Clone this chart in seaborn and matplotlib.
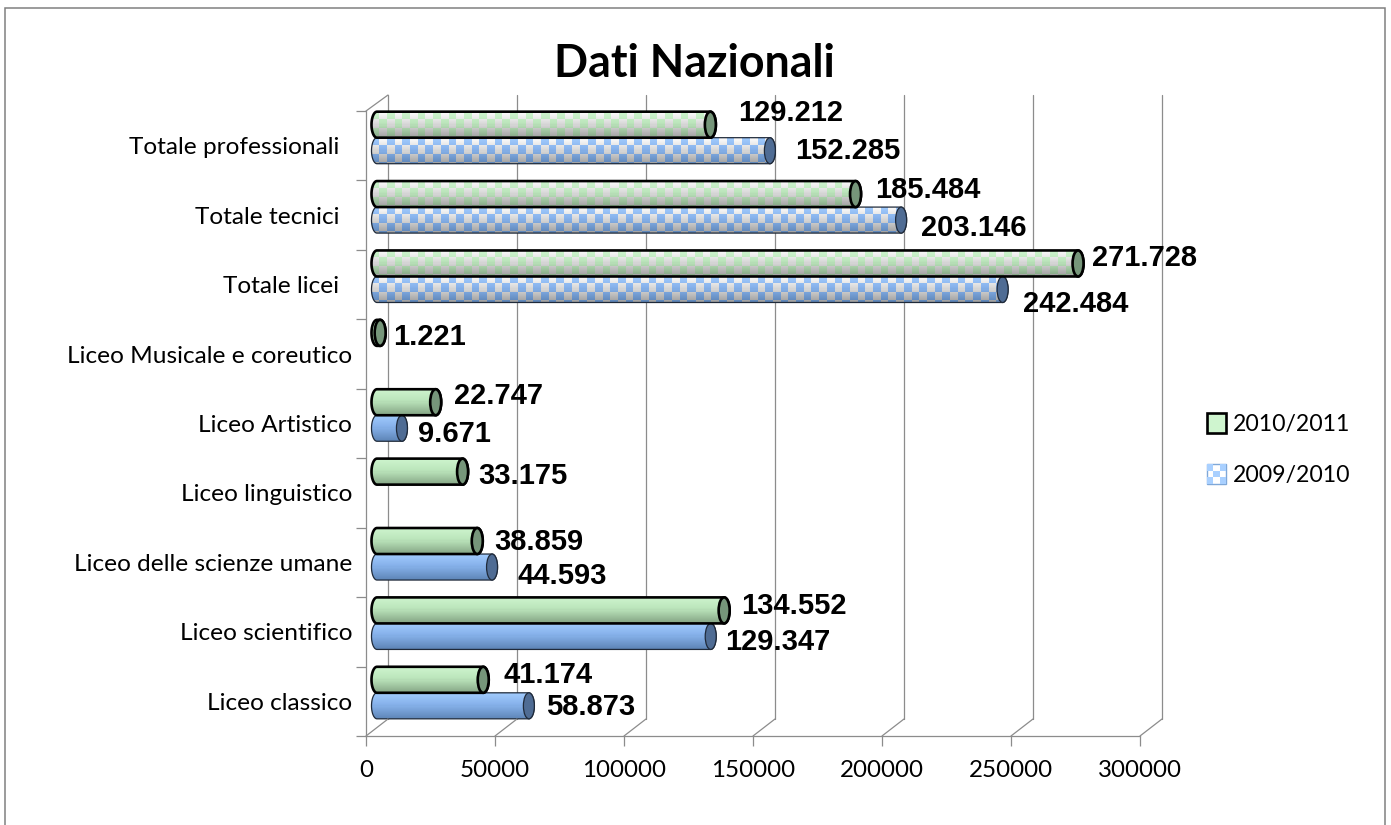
import matplotlib
matplotlib.use('Agg')
import matplotlib.pyplot as plt
import numpy as np
import pandas as pd
import seaborn as sns
from matplotlib.legend_handler import HandlerBase
from matplotlib.patches import ConnectionPatch, Ellipse, PathPatch, Patch, Rectangle
from matplotlib.path import Path

categories = ['Totale professionali  ', 'Totale tecnici  ', 'Totale licei  ', 'Liceo Musicale e coreutico',
              'Liceo Artistico', 'Liceo linguistico', 'Liceo delle scienze umane', 'Liceo scientifico',
              'Liceo classico']
values_2010 = [129212, 185484, 271728, 1221, 22747, 33175, 38859, 134552, 41174]
values_2009 = [152285, 203146, 242484, np.nan, 9671, np.nan, 44593, 129347, 58873]
years = ['2010/2011', '2009/2010']
x_ticks = [0, 50000, 100000, 150000, 200000, 250000, 300000]
checkered = categories[:3]

# manual placement of the data labels, in pixels from the bar end (dx, dy up)
offsets_2010 = [(28, 12), (20, 4), (14, 5), (13, -4), (18, 6), (16, -4), (17, -1), (17, 4), (20, 5)]
offsets_2009 = [(25, 0), (20, -8), (20, -15), None, (16, -6), None, (25, -9), (14, -6), (17, -1)]

W, H = 1391, 825
GREY = '#8c8c8c'
DEPTH_CAP = 5.5  # half width of bar end ellipse, px
PX_PER_UNIT = 774 / 300000

STYLES = {
    '2010/2011': dict(top='#cff5cf', mid='#bce6bc', bottom='#86a686', cap='#76967a', edge='black', lw=1.9),
    '2009/2010': dict(top='#a3cdff', mid='#88b3ec', bottom='#5f86b8', cap='#4f6c94', edge='#1f2a3a', lw=0.9),
}


def px_axes(fig, left, top, right, bottom, **kw):
    return fig.add_axes([left / W, 1 - bottom / H, (right - left) / W, (bottom - top) / H], **kw)


def hex_rgb(c):
    return np.array(matplotlib.colors.to_rgb(c))


def ramp(t, top, mid, bottom):
    top, mid, bottom = hex_rgb(top), hex_rgb(mid), hex_rgb(bottom)
    return np.where(t < 0.45, top + (mid - top) * t / 0.45, mid + (bottom - mid) * (t - 0.45) / 0.55)


def bar_image(style, w_px, h_px, checks):
    w_px, h_px = max(int(w_px), 2), max(int(h_px), 2)
    t = np.linspace(0, 1, h_px)[:, None]
    img = np.repeat(ramp(t, style['top'], style['mid'], style['bottom'])[:, None, :], w_px, axis=1)
    if checks:
        cell = 7.7
        yy, xx = np.mgrid[0:h_px, 0:w_px]
        mask = ((xx // cell + yy // cell) % 2).astype(bool)
        pale = np.repeat(ramp(t, '#ffffff', '#dcdcdc', '#a0a0a0')[:, None, :], w_px, axis=1)
        img[mask] = pale[mask]
    return img


def bar_path(x0, x1, y0, y1, rx):
    yc, ry = (y0 + y1) / 2, (y1 - y0) / 2
    th = np.linspace(-np.pi / 2, np.pi / 2, 40)
    right = np.column_stack([x1 + rx * np.cos(th), yc + ry * np.sin(th)])
    left = np.column_stack([x0 - rx * np.cos(th[::-1]), yc + ry * np.sin(th[::-1])])
    pts = np.vstack([right, left, right[:1]])
    return Path(pts, closed=True)


class CheckHandler(HandlerBase):
    def create_artists(self, legend, orig, xd, yd, width, height, fontsize, trans):
        side = height * 1.0
        x, y = xd * -1 + (width - side) / 2, yd * -1
        arts = [Rectangle((x, y), side, side, fc='#ffffff', ec='#7fa8d8', lw=1, transform=trans)]
        third = side / 3
        for i, j in [(0, 0), (2, 0), (0, 2), (2, 2), (1, 1)]:
            arts.append(Rectangle((x + i * third, y + j * third), third, third, fc='#a9d0ff', lw=0, transform=trans))
        return arts


class GreenHandler(HandlerBase):
    def create_artists(self, legend, orig, xd, yd, width, height, fontsize, trans):
        side = height * 1.0
        x, y = xd * -1 + (width - side) / 2, yd * -1
        return [Rectangle((x, y), side, side, fc='#cff5cf', ec='black', lw=1.9, transform=trans)]


df = pd.concat([
    pd.DataFrame({'corso': categories, 'iscritti': values_2010, 'anno': years[0]}),
    pd.DataFrame({'corso': categories, 'iscritti': values_2009, 'anno': years[1]}),
], ignore_index=True)

sns.set_theme(style='white')
plt.rcParams['font.family'] = ['Lato', 'DejaVu Sans']

fig = plt.figure(figsize=(W / 100, H / 100), dpi=100, facecolor='white')
fig.add_artist(Rectangle((5 / W, -0.05), 1380 / W, 1.05 - 8 / H, transform=fig.transFigure,
                         fill=False, ec='#808080', lw=1.1))

# front plane: axis lines, ticks, labels
ax_front = px_axes(fig, 366, 111, 1140, 736, facecolor='none')
# back plane: vertical gridlines
ax_wall = px_axes(fig, 388, 95, 1162, 719, facecolor='none')
# middle plane: the bars
ax = px_axes(fig, 377, 103, 1151, 727.5, facecolor='none')

for a in (ax_front, ax_wall):
    a.set_xlim(0, 300000)
    a.set_ylim(8.5, -0.5)

ax_front.set_xticks(x_ticks)
ax_front.set_xticklabels([str(t) for t in x_ticks], fontsize=17.4, color='black')
ax_front.set_yticks(range(len(categories)))
ax_front.set_yticklabels(categories, fontsize=17.6, color='black')
ax_front.set_yticks(np.arange(-0.5, len(categories)), minor=True)
ax_front.tick_params(axis='x', which='major', length=7.2, width=0.9, color=GREY, pad=10, bottom=True)
ax_front.tick_params(axis='y', which='major', length=0, pad=10, left=True)
ax_front.tick_params(axis='y', which='minor', length=7.2, width=0.9, color=GREY, left=True)
sns.despine(ax=ax_front, top=True, right=True)
for side in ('left', 'bottom'):
    ax_front.spines[side].set_color(GREY)
    ax_front.spines[side].set_linewidth(0.9)

ax_wall.set_xticks(x_ticks)
ax_wall.set_xticklabels([])
ax_wall.set_yticks([])
ax_wall.tick_params(length=0)
ax_wall.xaxis.grid(True, color=GREY, lw=0.9)
for line in ax_wall.get_xgridlines():
    line.set_clip_on(False)
for s in ax_wall.spines.values():
    s.set_visible(False)

for t in x_ticks:
    fig.add_artist(ConnectionPatch((t, 8.5), (t, 8.5), 'data', 'data', axesA=ax_front, axesB=ax_wall,
                                   color=GREY, lw=0.9))
fig.add_artist(ConnectionPatch((0, -0.5), (0, -0.5), 'data', 'data', axesA=ax_front, axesB=ax_wall,
                               color=GREY, lw=0.9))

sns.barplot(data=df, y='corso', x='iscritti', hue='anno', order=categories, hue_order=years,
            width=0.75, gap=0, dodge=True, legend=False, orient='h', errorbar=None, ax=ax)
ax.set_xlim(0, 300000)
ax.set_ylim(8.5, -0.5)
ax.axis('off')

# values per hue, in the category order, to dress up every bar
all_vals = {years[0]: values_2010, years[1]: values_2009}
all_off = {years[0]: offsets_2010, years[1]: offsets_2009}
rx = DEPTH_CAP / PX_PER_UNIT
y_per_px = 9 / 624.5

for year, container in zip(years, ax.containers):
    style = STYLES[year]
    bars = iter(container.patches)
    order = 3 if year == years[1] else 5  # green bar overlaps blue
    for cat, val, off in zip(categories, all_vals[year], all_off[year]):
        if np.isnan(val):
            continue
        bar = next(bars)
        bar.set_visible(False)
        x1 = bar.get_x() + bar.get_width()
        y0, y1 = sorted((bar.get_y(), bar.get_y() + bar.get_height()))
        outline = bar_path(0, x1, y0, y1, rx)
        w_px = (x1 + 2 * rx) * PX_PER_UNIT
        h_px = (y1 - y0) / y_per_px
        im = ax.imshow(bar_image(style, w_px, h_px, cat in checkered), extent=(-rx, x1 + rx, y1, y0),
                       aspect='auto', origin='upper', zorder=order, interpolation='nearest')
        im.set_clip_path(PathPatch(outline, transform=ax.transData))
        im.set_clip_box(fig.bbox)
        ax.add_patch(PathPatch(outline, fc='none', ec=style['edge'], lw=style['lw'], zorder=order + 0.1,
                               clip_on=False))
        ax.add_patch(Ellipse((x1, (y0 + y1) / 2), 2 * rx, y1 - y0, fc=style['cap'], ec=style['edge'],
                             lw=style['lw'], zorder=order + 0.2, clip_on=False))
        ax.annotate(f'{int(val):,}'.replace(',', '.'), xy=(x1 + 0, (y0 + y1) / 2), xytext=off,
                    textcoords='offset pixels', ha='left', va='center', fontsize=21, fontweight='bold',
                    family='Liberation Sans', color='black', zorder=10, annotation_clip=False)
ax.set_xlim(0, 300000)
ax.set_ylim(8.5, -0.5)

fig.text(694 / W, 1 - 64 / H, 'Dati Nazionali', ha='center', va='center', fontsize=32.2, fontweight='bold',
         family='Lato', color='black')

green = Patch(label=years[0])
blue = Patch(label=years[1])
fig.legend(handles=[green, blue], loc='center left', bbox_to_anchor=(1205 / W, 1 - 449.5 / H), frameon=False,
           fontsize=16.6, labelspacing=1.25, handlelength=1.0, handleheight=0.95, handletextpad=0.2,
           borderpad=0, borderaxespad=0, labelcolor='black', handler_map={green: GreenHandler(), blue: CheckHandler()})

fig.savefig('out.png', dpi=100)
